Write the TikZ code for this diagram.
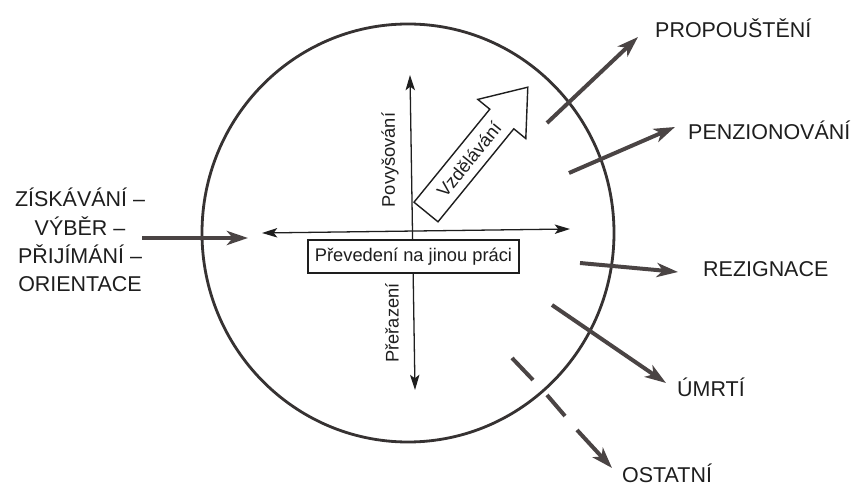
\documentclass[tikz,border=0pt]{standalone}
\usepackage{fontspec}
\setmainfont{Liberation Sans}
\usetikzlibrary{arrows.meta,shapes.geometric}
\definecolor{ink}{HTML}{363232}
\definecolor{arr}{HTML}{4A4444}
\definecolor{txt}{HTML}{1E1E1E}
\tikzset{
  biglabel/.style={font=\fontsize{18.3}{22}\selectfont, text=txt, inner sep=0pt, anchor=base west},
  leftlabel/.style={font=\fontsize{18.3}{22}\selectfont, text=txt, inner sep=0pt, anchor=base},
  smalllabel/.style={font=\fontsize{15.6}{18}\selectfont, text=txt, inner sep=0pt},
  thickarrow/.style={draw=arr, line width=3.4pt, -{Stealth[length=18pt,width=12pt,inset=5pt]}},
  thickdash/.style={draw=arr, line width=3.4pt},
  thinarrow/.style={draw=txt, line width=1.1pt, {Stealth[length=13pt,width=8pt,inset=3pt]}-{Stealth[length=13pt,width=8pt,inset=3pt]}},
}
\begin{document}
\begin{tikzpicture}[x=0.03cm,y=-0.03cm]
\useasboundingbox (0,0) rectangle (859,489);
\fill[white] (0,0) rectangle (859,489);

% organisation circle
\node[ellipse, draw=ink, line width=2.4pt, minimum width=12.36cm, minimum height=12.54cm, inner sep=0pt] (org) at (408,233) {};

% inner thin double arrows
\coordinate (hl) at (262,233);
\coordinate (hr) at (570,229);
\coordinate (vt) at (410,75);
\coordinate (vb) at (415,390);
\draw[thinarrow] (hl) -- (hr);
\draw[thinarrow] (vb) -- (vt);

% box
\node[draw=txt, fill=white, line width=1.1pt, minimum width=6.33cm, minimum height=0.99cm, inner sep=0pt, font=\fontsize{15.6}{18}\selectfont, text=txt] (prev) at (413.5,256.5) {Převedení na jinou práci};

% vertical labels
\node[smalllabel, rotate=90] (pov) at (390,160) {Povyšování};
\node[smalllabel, rotate=90] (pre) at (392,323) {Přeřazení};

% block arrow Vzdělávání
\draw[draw=txt, fill=white, line width=1.2pt, line join=miter]
  (414.0,202.2) -- (438.0,221.8) -- (513.8,128.8) -- (525.8,138.6) -- (527.8,87.2) -- (477.8,99.4) -- (489.8,109.2) -- cycle;
\node[smalllabel, rotate=51] (vzd) at (469,159.5) {Vzdělávání};

% left input
\node[leftlabel] (l1) at (80,207) {ZÍSKÁVÁNÍ –};
\node[leftlabel] (l2) at (80,236) {VÝBĚR –};
\node[leftlabel] (l3) at (80,264) {PŘIJÍMÁNÍ –};
\node[leftlabel] (l4) at (80,292) {ORIENTACE};
\coordinate (ins) at (142,238);
\coordinate (ine) at (248,238);
\draw[thickarrow, line width=4pt] (ins) -- (ine);

% outputs
\node[biglabel] (prop) at (655,38) {PROPOUŠTĚNÍ};
\node[biglabel] (penz) at (688,140) {PENZIONOVÁNÍ};
\node[biglabel] (rez) at (703,277) {REZIGNACE};
\node[biglabel] (umr) at (677,397) {ÚMRTÍ};
\node[biglabel] (ost) at (622,483) {OSTATNÍ};

\coordinate (p1) at (547,123); \coordinate (p2) at (638,37);
\coordinate (q1) at (569,173); \coordinate (q2) at (675,127);
\coordinate (r1) at (580,263); \coordinate (r2) at (678,272);
\coordinate (u1) at (552,305); \coordinate (u2) at (666,383);
\coordinate (o1) at (512,358); \coordinate (o2) at (533,380);
\coordinate (o3) at (547,395); \coordinate (o4) at (565,416);
\coordinate (o5) at (577,430); \coordinate (o6) at (612,468);

\draw[thickarrow] (p1) -- (p2);
\draw[thickarrow] (q1) -- (q2);
\draw[thickarrow] (r1) -- (r2);
\draw[thickarrow] (u1) -- (u2);
\draw[thickdash] (o1) -- (o2);
\draw[thickdash] (o3) -- (o4);
\draw[thickarrow] (o5) -- (o6);
\end{tikzpicture}
\end{document}
